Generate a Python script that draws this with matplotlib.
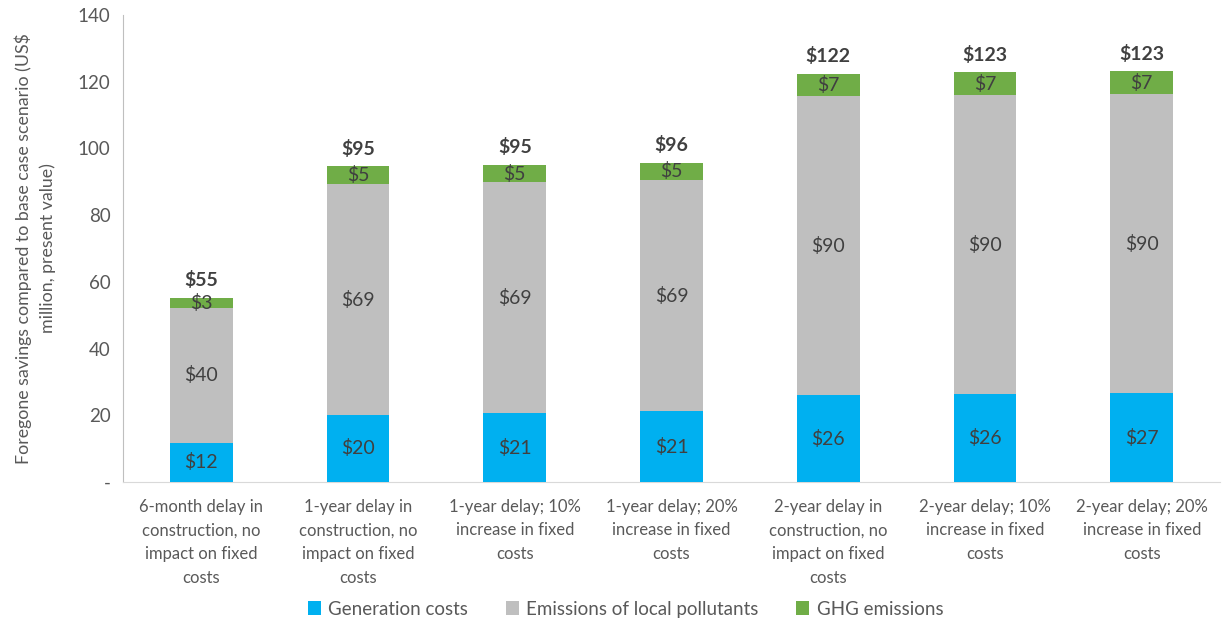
import numpy as np
import matplotlib.pyplot as plt
from matplotlib.ticker import FuncFormatter

plt.rcParams['font.family'] = ['Lato', 'DejaVu Sans']

# Scenario labels and stacked components (US$ million, present value)
scenarios = [
    "6-month delay in\nconstruction, no\nimpact on fixed\ncosts",
    "1-year delay in\nconstruction, no\nimpact on fixed\ncosts",
    "1-year delay; 10%\nincrease in fixed\ncosts",
    "1-year delay; 20%\nincrease in fixed\ncosts",
    "2-year delay in\nconstruction, no\nimpact on fixed\ncosts",
    "2-year delay; 10%\nincrease in fixed\ncosts",
    "2-year delay; 20%\nincrease in fixed\ncosts",
]
generation = [11.8, 20.1, 20.6, 21.2, 26.0, 26.3, 26.6]
local_pollutants = [40.4, 69.1, 69.2, 69.3, 89.6, 89.7, 89.6]
ghg = [3.1, 5.4, 5.3, 5.2, 6.8, 6.9, 6.9]

series_names = ["Generation costs", "Emissions of local pollutants", "GHG emissions"]
colors = ["#00B0F0", "#BFBFBF", "#70AD47"]
text_col = "#404040"
axis_col = "#595959"

fig = plt.figure(figsize=(12.23, 6.24), dpi=100)
ax = fig.add_axes([0.1006, 0.2276, 0.897, 0.7484])

x = np.arange(len(scenarios))
width = 0.40
bottom = np.zeros(len(x))
for vals, name, c in zip([generation, local_pollutants, ghg], series_names, colors):
    vals = np.array(vals)
    ax.bar(x, vals, width, bottom=bottom, color=c, label=name, zorder=3)
    for xi, b, v in zip(x, bottom, vals):
        ax.text(xi, b + v / 2, "${:.0f}".format(v), ha="center", va="center",
                fontsize=14, color=text_col, zorder=4)
    bottom = bottom + vals

# totals above each stack
for xi, t in zip(x, bottom):
    ax.annotate("${:.0f}".format(t), (xi, t), xytext=(0, 6), textcoords="offset points",
                ha="center", va="bottom", fontsize=14, fontweight="bold", color=text_col)

ax.set_xlim(-0.5, len(x) - 0.5)
ax.set_ylim(0, 140)
ax.set_yticks(np.arange(0, 141, 20))
ax.yaxis.set_major_formatter(FuncFormatter(lambda v, p: "-" if v == 0 else "{:.0f}".format(v)))
ax.set_xticks(x)
ax.set_xticklabels(scenarios, fontsize=12, color=axis_col, linespacing=1.6)
ax.tick_params(axis="y", length=0, pad=9, labelsize=13.5, labelcolor=axis_col)
ax.tick_params(axis="x", length=0, pad=12)

for s in ["top", "right"]:
    ax.spines[s].set_visible(False)
ax.spines["left"].set_color("#BFBFBF")
ax.spines["bottom"].set_color("#D9D9D9")

ax.set_ylabel("Foregone savings compared to base case scenario (US$\nmillion, present value)",
              fontsize=12.8, color=axis_col, labelpad=16, linespacing=1.5)

ax.legend(loc="center", bbox_to_anchor=(0.458, -0.272), ncol=3, frameon=False,
          fontsize=13.5, handlelength=0.7, handleheight=0.7, columnspacing=2.0,
          handletextpad=0.4, labelcolor=axis_col)

plt.savefig("out.png", dpi=100)
